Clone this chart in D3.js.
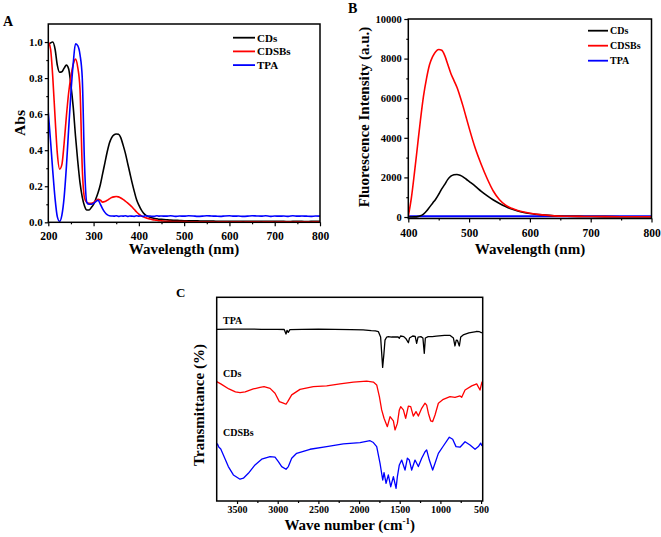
<!DOCTYPE html>
<html>
<head>
<meta charset="utf-8">
<script src="https://cdn.jsdelivr.net/npm/d3@7"></script>
<style>
  body { margin: 0; background: #fff; }
  svg { font-family: "Liberation Serif", "Times New Roman", Tinos, "DejaVu Serif", serif; font-weight: bold; }
</style>
</head>
<body>
<svg id="chart" width="661" height="537"></svg>
<script>
// ---- panel A : UV-vis absorbance ----
const absWl = [200, 205, 210, 215, 220, 225, 230, 235, 240, 245,
  250, 255, 260, 265, 270, 275, 280, 285, 290, 295,
  300, 305, 310, 315, 320, 325, 330, 335, 340, 345,
  350, 355, 360, 365, 370, 375, 380, 385, 390, 395,
  400, 405, 410, 415, 420, 425, 430, 435, 440, 445, 450,
  460, 470, 480, 490, 500, 510, 520, 530, 540, 550,
  560, 570, 580, 590, 600, 610, 620, 630, 640, 650,
  660, 670, 680, 690, 700, 710, 720, 730, 740, 750,
  760, 770, 780, 790, 800];

const cdsAbs = [0.985, 0.995, 1.0, 0.96, 0.87, 0.832, 0.835, 0.855, 0.872, 0.85,
  0.76, 0.64, 0.48, 0.34, 0.22, 0.14, 0.09, 0.068, 0.068, 0.082,
  0.10, 0.13, 0.165, 0.21, 0.27, 0.33, 0.39, 0.44, 0.47, 0.485,
  0.49, 0.488, 0.47, 0.43, 0.385, 0.33, 0.275, 0.22, 0.17, 0.125,
  0.095, 0.07, 0.052, 0.04, 0.033, 0.028, 0.024, 0.021, 0.019, 0.017, 0.016,
  0.014, 0.012, 0.011, 0.010, 0.009, 0.009, 0.008, 0.008, 0.007, 0.007,
  0.007, 0.006, 0.006, 0.006, 0.006, 0.006, 0.005, 0.005, 0.005, 0.005,
  0.005, 0.005, 0.005, 0.005, 0.005, 0.005, 0.005, 0.004, 0.005, 0.005,
  0.005, 0.004, 0.005, 0.005, 0.005];

const cdsbsAbs = [1.0, 0.96, 0.80, 0.58, 0.38, 0.295, 0.32, 0.44, 0.59, 0.72,
  0.81, 0.875, 0.905, 0.86, 0.74, 0.30, 0.135, 0.11, 0.105, 0.105,
  0.11, 0.12, 0.127, 0.122, 0.112, 0.115, 0.122, 0.13, 0.137, 0.141,
  0.143, 0.141, 0.135, 0.127, 0.118, 0.108, 0.097, 0.085, 0.071, 0.057,
  0.046, 0.037, 0.03, 0.025, 0.021, 0.018, 0.015, 0.013, 0.011, 0.009, 0.008,
  0.006, 0.005, 0.004, 0.004, 0.004, 0.003, 0.003, 0.003, 0.003, 0.003,
  0.003, 0.002, 0.003, 0.003, 0.002, 0.003, 0.003, 0.002, 0.003, 0.003,
  0.003, 0.002, 0.003, 0.003, 0.002, 0.003, 0.003, 0.003, 0.002, 0.003,
  0.003, 0.003, 0.002, 0.003, 0.003];

const tpaAbs = [0.61, 0.45, 0.28, 0.13, 0.03, 0.005, 0.04, 0.14, 0.31, 0.52,
  0.72, 0.88, 0.99, 0.98, 0.93, 0.80, 0.32, 0.11, 0.10, 0.10,
  0.105, 0.115, 0.122, 0.10, 0.075, 0.055, 0.042, 0.036, 0.035, 0.034,
  0.036, 0.033, 0.035, 0.034, 0.036, 0.033, 0.035, 0.034, 0.033, 0.036,
  0.034, 0.035, 0.033, 0.036, 0.034, 0.035, 0.033, 0.034, 0.036, 0.034, 0.035,
  0.034, 0.036, 0.033, 0.035, 0.034, 0.036, 0.035, 0.033, 0.034, 0.036,
  0.035, 0.034, 0.033, 0.035, 0.036, 0.034, 0.035, 0.033, 0.034, 0.036,
  0.035, 0.034, 0.036, 0.033, 0.035, 0.034, 0.035, 0.033, 0.036, 0.034,
  0.035, 0.034, 0.033, 0.035, 0.034];

// ---- panel B : fluorescence ----
const flWl = [400, 405, 410, 415, 420, 425, 430, 435, 440, 445,
  450, 455, 460, 465, 470, 475, 480, 485, 490, 495,
  500, 510, 520, 530, 540, 550, 560, 570, 580, 590,
  600, 620, 640, 660, 680, 700, 750, 800];

const cdsFl = [0, 0, 5, 20, 60, 150, 300, 500, 700, 900,
  1150, 1420, 1650, 1900, 2060, 2130, 2150, 2110, 2030, 1920,
  1800, 1560, 1300, 1070, 860, 680, 530, 400, 300, 230,
  180, 110, 60, 40, 30, 25, 15, 10];

const cdsbsFl = [30, 950, 2200, 3550, 4900, 6100, 7000, 7700, 8100, 8350,
  8460, 8420, 8150, 7700, 7250, 6900, 6550, 6100, 5600, 5050,
  4500, 3480, 2650, 1920, 1300, 870, 600, 440, 330, 250,
  190, 110, 60, 40, 30, 25, 15, 10];

const tpaFl = [40, 40, 40, 40, 40, 40, 40, 40, 40, 40,
  40, 40, 40, 40, 40, 40, 40, 40, 40, 40,
  40, 40, 40, 40, 40, 40, 40, 40, 40, 40,
  40, 40, 40, 40, 40, 40, 40, 40];

// ---- panel C : FTIR (offset, arbitrary units) ----
const tpaWn = [3750, 3600, 3400, 3200, 3000, 2920, 2898, 2885, 2870, 2850,
  2700, 2500, 2300, 2100, 1950, 1850, 1800, 1763, 1735, 1710,
  1695, 1681, 1660, 1640, 1600, 1560, 1520, 1505, 1490, 1450,
  1420, 1394, 1380, 1340, 1310, 1292, 1275, 1240, 1215, 1198,
  1185, 1150, 1100, 1050, 950, 880, 840, 821, 805, 790,
  767, 750, 720, 650, 560, 520, 490];
const tpaIr = [84.3, 84.4, 84.4, 84.3, 84.3, 84.2, 82.0, 83.8, 82.8, 84.1,
  84.3, 84.4, 84.3, 84.1, 84.0, 83.6, 83.5, 83.2, 80.5, 65.6,
  72.0, 79.0, 80.5, 80.7, 80.5, 80.6, 80.5, 79.9, 81.0, 80.7,
  79.5, 77.7, 80.0, 81.0, 80.8, 77.4, 80.5, 80.7, 80.0, 72.5,
  80.0, 80.7, 80.7, 80.9, 81.3, 81.3, 80.0, 76.1, 79.0, 78.8,
  76.1, 80.5, 81.5, 82.5, 83.2, 83.1, 82.5];

const cdsWn = [3750, 3700, 3600, 3520, 3463, 3400, 3300, 3217, 3168, 3094,
  3033, 2980, 2930, 2898, 2877, 2828, 2726, 2562, 2398, 2234,
  2070, 1906, 1824, 1783, 1750, 1722, 1693, 1668, 1652, 1619,
  1578, 1558, 1529, 1505, 1488, 1455, 1427, 1394, 1365, 1333,
  1300, 1271, 1230, 1189, 1169, 1148, 1119, 1095, 1066, 1025,
  964, 882, 820, 759, 738, 697, 615, 554, 513, 488];
const cdsIr = [58.6, 57.5, 55.0, 53.6, 53.2, 53.6, 55.0, 55.8, 56.1, 55.3,
  52.9, 48.8, 48.0, 47.5, 48.8, 52.1, 54.8, 56.1, 56.5, 57.5,
  58.4, 58.8, 58.4, 57.0, 51.2, 44.7, 40.6, 38.1, 36.5, 41.4,
  39.3, 34.9, 38.1, 44.7, 46.3, 44.7, 40.6, 46.6, 46.3, 41.7,
  43.9, 41.7, 45.5, 48.0, 47.1, 43.1, 39.3, 39.0, 42.2, 48.0,
  49.9, 51.2, 50.9, 51.6, 50.9, 54.5, 56.5, 57.5, 54.5, 58.6];

const cdsbsWn = [3750, 3740, 3725, 3700, 3668, 3607, 3545, 3463, 3422, 3361,
  3279, 3197, 3094, 3033, 2992, 2951, 2898, 2869, 2828, 2767,
  2603, 2398, 2193, 1988, 1865, 1824, 1783, 1742, 1709, 1693,
  1668, 1640, 1611, 1578, 1545, 1529, 1505, 1476, 1435, 1406,
  1382, 1353, 1312, 1271, 1230, 1189, 1169, 1136, 1095, 1066,
  1025, 964, 890, 849, 808, 759, 697, 636, 574, 533, 505, 488];
const cdsbsIr = [27.5, 28.0, 26.5, 25.5, 22.6, 16.9, 12.8, 10.7, 11.2, 13.6,
  17.7, 20.5, 21.8, 21.5, 19.3, 16.9, 15.6, 16.9, 21.0, 23.4,
  25.4, 26.7, 28.0, 28.7, 29.6, 28.7, 26.7, 18.5, 10.3, 13.9,
  8.7, 12.8, 7.0, 12.0, 6.2, 12.0, 17.7, 20.1, 15.2, 21.0,
  20.1, 15.2, 20.1, 16.9, 21.0, 24.2, 25.1, 20.1, 15.2, 18.5,
  23.4, 27.0, 31.3, 30.3, 26.7, 26.4, 29.1, 27.5, 25.4, 26.7, 28.4, 27.0];

const seriesNames = ["CDs", "CDSBs", "TPA"];
const COLORS = {CDs: "#000000", CDSBs: "#ff0000", TPA: "#0000ff"};
const FONT = "Liberation Serif, Times New Roman, Tinos, DejaVu Serif, serif";

const SVG = d3.select("#chart");

// frame box around a plot
function frame(x0, y0, x1, y1) {
  SVG.append("rect")
    .attr("x", x0).attr("y", y0)
    .attr("width", x1 - x0).attr("height", y1 - y0)
    .attr("fill", "none").attr("stroke", "#000").attr("stroke-width", 1.5);
}

function clip(id, x0, y0, x1, y1) {
  SVG.append("clipPath").attr("id", id)
    .append("rect").attr("x", x0).attr("y", y0)
    .attr("width", x1 - x0).attr("height", y1 - y0);
}

function styleAxis(g, fs) {
  g.select(".domain").remove();
  g.attr("font-family", FONT).attr("font-weight", "bold").attr("font-size", fs);
  g.selectAll("line").attr("stroke-width", 1.2);
}

function bottomAxis(scale, yPos, major, minor, fs, tick, pad) {
  const ax = d3.axisBottom(scale).tickValues(major).tickSize(tick).tickPadding(pad)
    .tickSizeOuter(0).tickFormat(d3.format("d"));
  const g = SVG.append("g").attr("transform", "translate(0," + yPos + ")").call(ax);
  styleAxis(g, fs);
  const m = SVG.append("g").attr("transform", "translate(0," + yPos + ")")
    .call(d3.axisBottom(scale).tickValues(minor).tickSize(2).tickFormat("").tickSizeOuter(0));
  styleAxis(m, fs);
}

function leftAxis(scale, xPos, major, minor, fs, tick, pad, fmt) {
  const g = SVG.append("g").attr("transform", "translate(" + xPos + ",0)")
    .call(d3.axisLeft(scale).tickValues(major).tickSize(tick).tickPadding(pad).tickSizeOuter(0).tickFormat(fmt));
  styleAxis(g, fs);
  const m = SVG.append("g").attr("transform", "translate(" + xPos + ",0)")
    .call(d3.axisLeft(scale).tickValues(minor).tickSize(2).tickFormat("").tickSizeOuter(0));
  styleAxis(m, fs);
}

function drawLine(xs, ys, X, Y, color, clipId, curve, width) {
  const line = d3.line()
    .x(d => X(d[0]))
    .y(d => Y(d[1]))
    .curve(curve);
  SVG.append("path")
    .datum(d3.zip(xs, ys))
    .attr("clip-path", "url(#" + clipId + ")")
    .attr("fill", "none")
    .attr("stroke", color)
    .attr("stroke-width", width)
    .attr("stroke-linejoin", "round")
    .attr("d", line);
}

function text(x, y, str, fs, anchor, rotate) {
  const t = SVG.append("text")
    .attr("x", x).attr("y", y)
    .attr("font-size", fs)
    .attr("font-family", FONT)
    .attr("font-weight", "bold")
    .attr("text-anchor", anchor || "start")
    .text(str);
  if (rotate) t.attr("transform", "rotate(-90," + x + "," + y + ")");
  return t;
}

function legend(x, y0, dy, fs, len) {
  seriesNames.forEach((name, i) => {
    const y = y0 + i * dy;
    SVG.append("line")
      .attr("x1", x).attr("x2", x + len)
      .attr("y1", y).attr("y2", y)
      .attr("stroke", COLORS[name]).attr("stroke-width", 1.8);
    text(x + len + 2, y + fs * 0.35, name, fs);
  });
}

// ================= Panel A =================
const A = {x0: 48.3, x1: 320, y0: 24, y1: 222.3};
const xA = d3.scaleLinear().domain([200, 800]).range([A.x0, A.x1]);
const yA = d3.scaleLinear().domain([0, 1.1]).range([A.y1, A.y0]);
clip("clipA", A.x0, A.y0, A.x1, A.y1);

drawLine(absWl, cdsAbs, xA, yA, COLORS.CDs, "clipA", d3.curveMonotoneX, 1.6);
drawLine(absWl, cdsbsAbs, xA, yA, COLORS.CDSBs, "clipA", d3.curveMonotoneX, 1.6);
drawLine(absWl, tpaAbs, xA, yA, COLORS.TPA, "clipA", d3.curveMonotoneX, 1.6);

frame(A.x0, A.y0, A.x1, A.y1);
bottomAxis(xA, A.y1, d3.range(200, 801, 100), d3.range(250, 800, 100), 11.5, 4, 5.5);
leftAxis(yA, A.x0, [0, 0.2, 0.4, 0.6, 0.8, 1.0], [0.1, 0.3, 0.5, 0.7, 0.9], 11, 3.5, 2, d3.format(".1f"));
legend(233, 37.7, 13.7, 11, 22);
text(184, 254, "Wavelength (nm)", 15, "middle");
text(25, 123, "Abs", 15.5, "middle", true);
text(3, 26, "A", 14);

// ================= Panel B =================
const B = {x0: 408.3, x1: 651.5, y0: 19, y1: 218.5};
const xB = d3.scaleLinear().domain([400, 800]).range([B.x0, B.x1]);
const yB = d3.scaleLinear().domain([-75, 10000]).range([B.y1, B.y0]);
clip("clipB", B.x0, B.y0, B.x1, B.y1);

drawLine(flWl, tpaFl, xB, yB, COLORS.TPA, "clipB", d3.curveMonotoneX, 2);
drawLine(flWl, cdsFl, xB, yB, COLORS.CDs, "clipB", d3.curveMonotoneX, 1.6);
drawLine(flWl, cdsbsFl, xB, yB, COLORS.CDSBs, "clipB", d3.curveMonotoneX, 1.6);

frame(B.x0, B.y0, B.x1, B.y1);
bottomAxis(xB, B.y1, d3.range(400, 801, 100), d3.range(450, 800, 100), 11.5, 4, 6);
leftAxis(yB, B.x0, d3.range(0, 10001, 2000), d3.range(1000, 10000, 2000), 10.5, 4, 2.6, d3.format("d"));
legend(588, 30.7, 15, 10, 20);
text(530, 254, "Wavelength (nm)", 15, "middle");
text(369, 117, "Fluorescence Intensity (a.u.)", 15, "middle", true);
text(348, 13, "B", 14);

// ================= Panel C =================
const C = {x0: 216.7, x1: 482.7, y0: 297.3, y1: 501};
const xC = d3.scaleLinear().domain([3750, 480]).range([C.x0, C.x1]);
const yC = d3.scaleLinear().domain([0, 100]).range([C.y1, C.y0]);
clip("clipC", C.x0, C.y0, C.x1, C.y1);

drawLine(tpaWn, tpaIr, xC, yC, COLORS.CDs, "clipC", d3.curveLinear, 1.3);
drawLine(cdsWn, cdsIr, xC, yC, COLORS.CDSBs, "clipC", d3.curveLinear, 1.3);
drawLine(cdsbsWn, cdsbsIr, xC, yC, COLORS.TPA, "clipC", d3.curveLinear, 1.3);

frame(C.x0, C.y0, C.x1, C.y1);
bottomAxis(xC, C.y1, d3.range(3500, 499, -500), d3.range(3250, 600, -500), 10, 3, 1.5);
text(223, 324.3, "TPA", 10);
text(223, 376.7, "CDs", 10);
text(223, 435.7, "CDSBs", 10);

const cTitle = text(349.7, 529.5, "Wave number (cm", 15, "middle");
cTitle.append("tspan").attr("font-size", 9).attr("dy", -6).text("-1");
cTitle.append("tspan").attr("dy", 6).text(")");
text(204, 405, "Transmittance (%)", 15, "middle", true);
text(176, 297, "C", 13);
</script>
</body>
</html>
